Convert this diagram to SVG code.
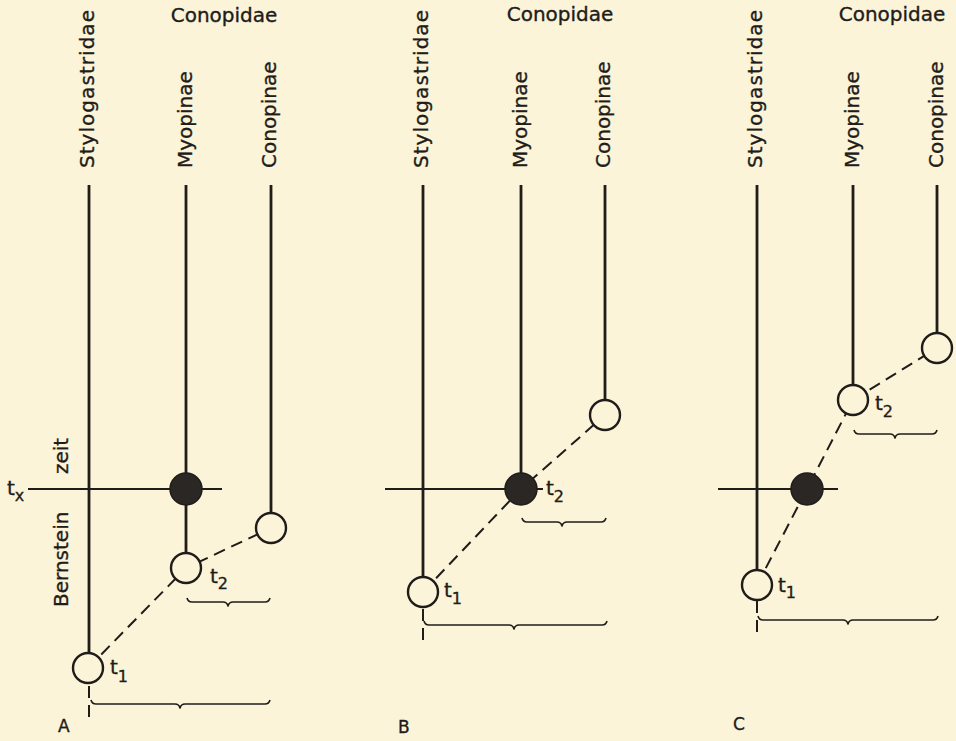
<svg xmlns="http://www.w3.org/2000/svg" width="956" height="741" viewBox="0 0 956 741">
  <style>
    text { font-family: "DejaVu Sans", "Liberation Sans", sans-serif; fill: #1f1c1a; stroke: #1f1c1a; stroke-width: 0.35; }
    .lbl { font-size: 20px; }
    .head { font-size: 20px; text-anchor: middle; }
    .t { font-size: 20px; }
    .sub { font-size: 16px; }
    .panel { font-size: 17px; }
    .stem { stroke: #1f1c1a; stroke-width: 2.8; fill: none; }
    .tx { stroke: #1f1c1a; stroke-width: 2; fill: none; }
    .dash { stroke: #1f1c1a; stroke-width: 2; fill: none; stroke-dasharray: 12 7; }
    .brace { stroke: #1f1c1a; stroke-width: 1.6; fill: none; stroke-linejoin: round; }
    .open { fill: #fbf4d8; stroke: #1f1c1a; stroke-width: 2.4; }
    .dot { fill: #2b2724; stroke: #1f1c1a; stroke-width: 1.5; }
  </style>
  <rect width="956" height="741" fill="#fbf4d8"/>

  <!-- Panel A -->
  <g id="panelA">
    <g id="A-labels">
      <text class="lbl" transform="translate(94 168) rotate(-90)" textLength="158" lengthAdjust="spacing">Stylogastridae</text>
      <text class="lbl" transform="translate(192 168) rotate(-90)">Myopinae</text>
      <text class="lbl" transform="translate(276 168) rotate(-90)">Conopinae</text>
      <text class="head" x="224" y="22">Conopidae</text>
      <text class="lbl" transform="translate(68 607) rotate(-90)">Bernstein</text>
      <text class="lbl" transform="translate(68 474) rotate(-90)">zeit</text>
      <text class="t" x="7" y="495">t<tspan class="sub" dy="6" font-size="15">x</tspan></text>
      <text class="panel" x="58" y="732">A</text>
    </g>
    <g id="A-connectors">
      <line class="stem" x1="89" y1="185" x2="89" y2="654"/>
      <line class="stem" x1="186" y1="185" x2="186" y2="554"/>
      <line class="stem" x1="271" y1="185" x2="271" y2="514"/>
      <line class="tx" x1="28" y1="489" x2="222" y2="489"/>
      <polyline class="dash" points="88,668 186,568 271,528"/>
      <line class="dash" x1="89" y1="686" x2="89" y2="722"/>
      <path class="brace" d="M187 598 q1 4 5 4 H223 q4 0 5 4 q1 -4 5 -4 H265 q4 0 5 -4"/>
      <path class="brace" d="M91 700 q1 4 5 4 H175 q4 0 5 4 q1 -4 5 -4 H265 q4 0 5 -4"/>
    </g>
    <g id="A-t1"><circle class="open" cx="88" cy="668" r="15"/><text class="t" x="110" y="674">t<tspan class="sub" dy="8">1</tspan></text></g>
    <g id="A-t2"><circle class="open" cx="186" cy="568" r="15"/><text class="t" x="210" y="583">t<tspan class="sub" dy="6">2</tspan></text></g>
    <g id="A-conopinae"><circle class="open" cx="271" cy="528" r="15"/></g>
    <g id="A-tx"><circle class="dot" cx="186" cy="489" r="16"/></g>
  </g>

  <!-- Panel B -->
  <g id="panelB">
    <g id="B-labels">
      <text class="lbl" transform="translate(428 168) rotate(-90)" textLength="158" lengthAdjust="spacing">Stylogastridae</text>
      <text class="lbl" transform="translate(527 168) rotate(-90)">Myopinae</text>
      <text class="lbl" transform="translate(610 168) rotate(-90)">Conopinae</text>
      <text class="head" x="560" y="21">Conopidae</text>
      <text class="panel" x="398" y="733">B</text>
    </g>
    <g id="B-connectors">
      <line class="stem" x1="423" y1="185" x2="423" y2="578"/>
      <line class="stem" x1="521" y1="185" x2="521" y2="474"/>
      <line class="stem" x1="605" y1="185" x2="605" y2="401"/>
      <line class="tx" x1="385" y1="489" x2="543" y2="489"/>
      <polyline class="dash" points="423,592 521,489 605,415"/>
      <line class="dash" x1="423" y1="609" x2="423" y2="642"/>
      <path class="brace" d="M522 518 q1 4 5 4 H557 q4 0 5 4 q1 -4 5 -4 H601 q4 0 5 -4"/>
      <path class="brace" d="M424 621 q1 4 5 4 H509 q4 0 5 4 q1 -4 5 -4 H602 q4 0 5 -4"/>
    </g>
    <g id="B-t1"><circle class="open" cx="423" cy="592" r="15"/><text class="t" x="444" y="597">t<tspan class="sub" dy="7">1</tspan></text></g>
    <g id="B-t2"><circle class="dot" cx="521" cy="489" r="16"/><text class="t" x="546" y="495">t<tspan class="sub" dy="7">2</tspan></text></g>
    <g id="B-conopinae"><circle class="open" cx="605" cy="415" r="15"/></g>
  </g>

  <!-- Panel C -->
  <g id="panelC">
    <g id="C-labels">
      <text class="lbl" transform="translate(762 168) rotate(-90)" textLength="158" lengthAdjust="spacing">Stylogastridae</text>
      <text class="lbl" transform="translate(859 168) rotate(-90)">Myopinae</text>
      <text class="lbl" transform="translate(943 168) rotate(-90)">Conopinae</text>
      <text class="head" x="892" y="21">Conopidae</text>
      <text class="panel" x="733" y="730">C</text>
    </g>
    <g id="C-connectors">
      <line class="stem" x1="757" y1="185" x2="757" y2="571"/>
      <line class="stem" x1="853" y1="185" x2="853" y2="386"/>
      <line class="stem" x1="937" y1="185" x2="937" y2="334"/>
      <line class="tx" x1="718" y1="489" x2="838" y2="489"/>
      <polyline class="dash" points="757,585 807,489 853,400 937,348"/>
      <line class="dash" x1="757" y1="601" x2="757" y2="637"/>
      <path class="brace" d="M854 430 q1 4 5 4 H890 q4 0 5 4 q1 -4 5 -4 H932 q4 0 5 -4"/>
      <path class="brace" d="M758 616 q1 4 5 4 H843 q4 0 5 4 q1 -4 5 -4 H933 q4 0 5 -4"/>
    </g>
    <g id="C-t1"><circle class="open" cx="757" cy="585" r="15"/><text class="t" x="778" y="592">t<tspan class="sub" dy="6">1</tspan></text></g>
    <g id="C-t2"><circle class="open" cx="853" cy="400" r="15"/><text class="t" x="875" y="410">t<tspan class="sub" dy="7">2</tspan></text></g>
    <g id="C-conopinae"><circle class="open" cx="937" cy="348" r="15"/></g>
    <g id="C-tx"><circle class="dot" cx="807" cy="489" r="16"/></g>
  </g>
</svg>
